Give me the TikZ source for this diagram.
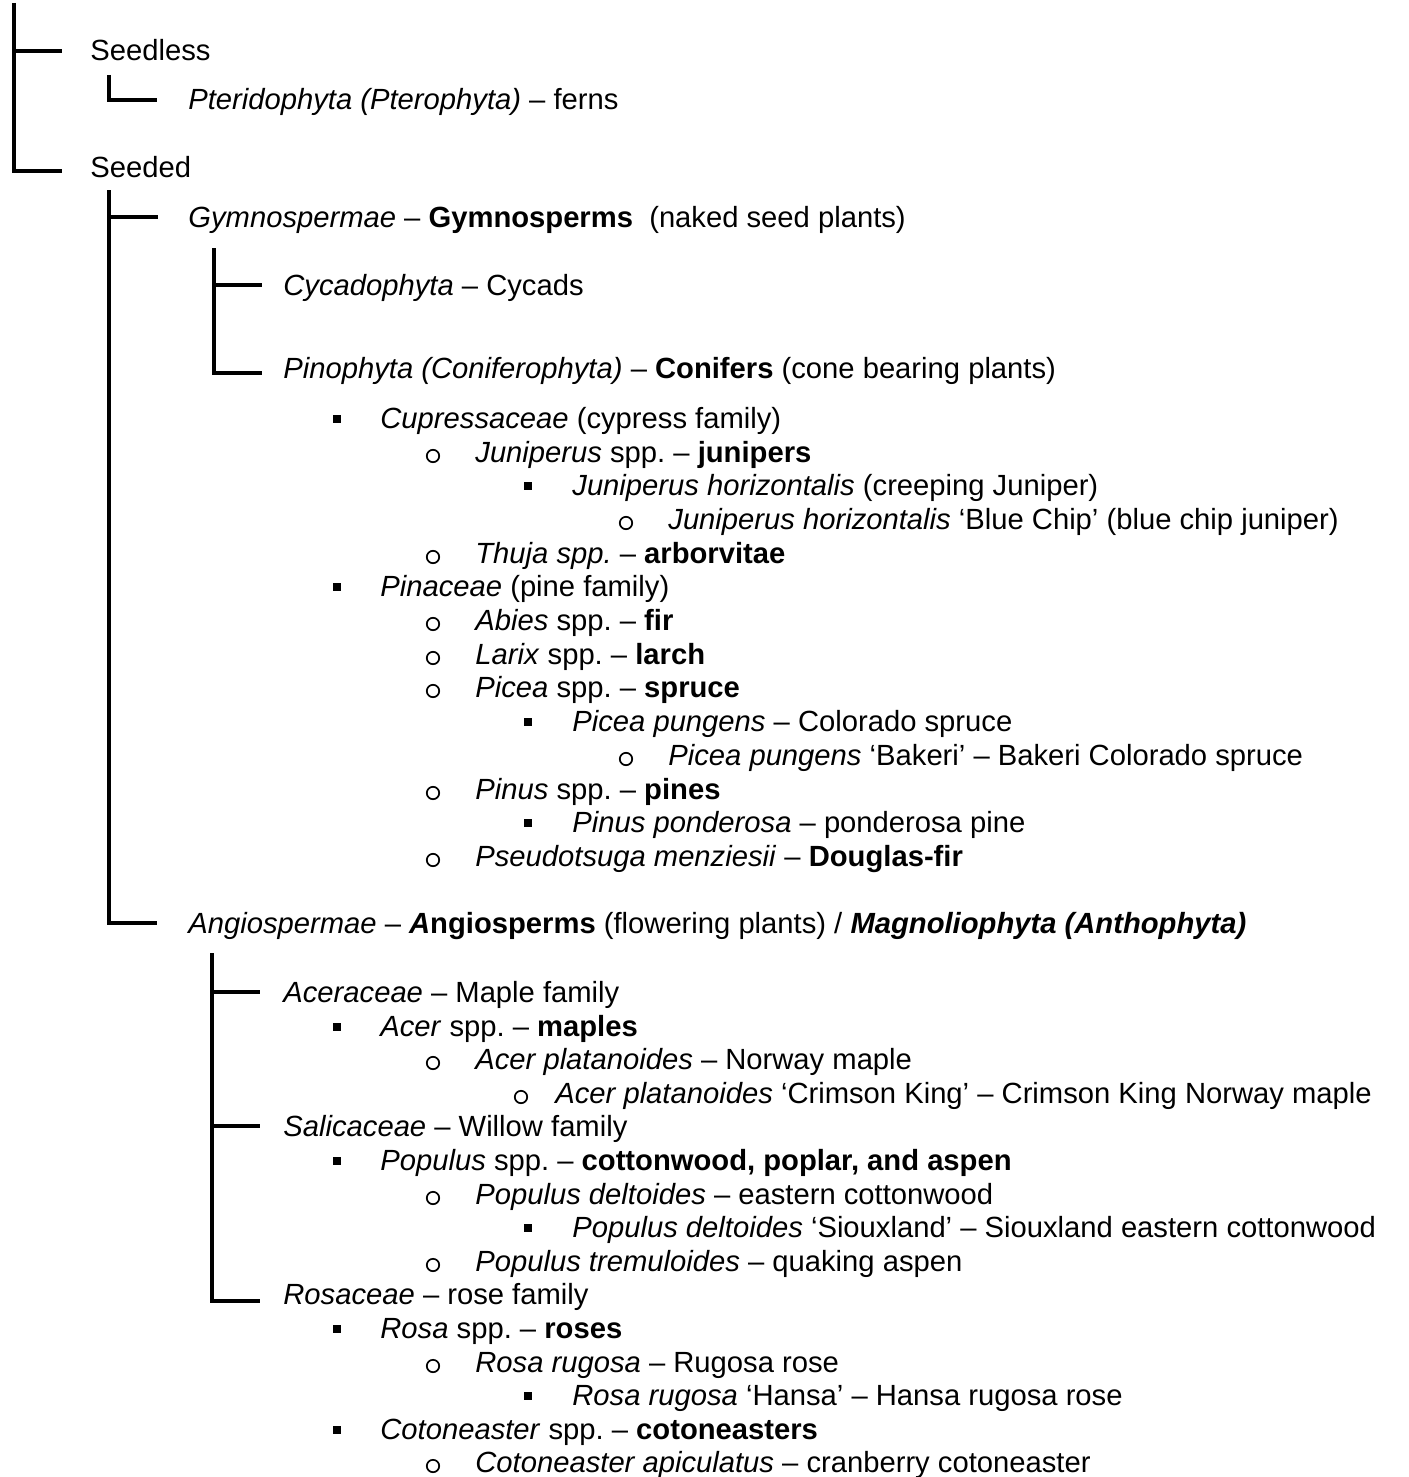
\documentclass[tikz,border=0pt]{standalone}
\usepackage{fontspec}
\setmainfont{Liberation Sans}
\usetikzlibrary{positioning}
\tikzset{
  lbl/.style={anchor=base west,inner sep=0pt,text height=10.45pt,text depth=0pt,
              font=\fontsize{14.6}{17}\selectfont},
  brk/.style={line width=2pt,line join=miter},
  sqbul/.style={rectangle,fill=black,inner sep=0pt,minimum size=4pt},
  cibul/.style={circle,draw=black,line width=0.85pt,inner sep=0pt,minimum size=6.2pt}
}
\frenchspacing
\begin{document}
\begin{tikzpicture}[x=0.5pt,y=-0.5pt]
  \useasboundingbox (0,0) rectangle (1408,1477);

  % top split
  \coordinate (root) at (14,3);
  \node[lbl] (seedless) at (90,61) {Seedless};
  \node[lbl] (pterido) at (188,110) {\textit{Pteridophyta (Pterophyta)} – ferns};
  \node[lbl] (seeded) at (90,177) {Seeded};

  \node[lbl] (gym) at (188,227)
      {\textit{Gymnospermae} – \textbf{Gymnosperms}\ \ (naked seed plants)};
  \node[lbl] (cycad) at (283,295) {\textit{Cycadophyta} – Cycads};
  \node[lbl] (pino) at (283,378)
      {\textit{Pinophyta (Coniferophyta)} – \textbf{Conifers} (cone bearing plants)};

  % conifer list
  \node[sqbul] (cup-b) at (337,419) {};
  \node[lbl] (cup) at (380,428) {\textit{Cupressaceae} (cypress family)};
  \node[cibul] (junsp-b) at (433,456) {};
  \node[lbl] (junsp) at (475,462) {\textit{Juniperus} spp. – \textbf{junipers}};
  \node[sqbul] (junhor-b) at (528,486) {};
  \node[lbl] (junhor) at (572,495) {\textit{Juniperus horizontalis} (creeping Juniper)};
  \node[cibul] (blue-b) at (626,523) {};
  \node[lbl] (blue) at (668,529)
      {\textit{Juniperus horizontalis} ‘Blue Chip’ (blue chip juniper)};
  \node[cibul] (thuja-b) at (433,557) {};
  \node[lbl] (thuja) at (475,563) {\textit{Thuja spp.} – \textbf{arborvitae}};
  \node[sqbul] (pinac-b) at (337,587) {};
  \node[lbl] (pinac) at (380,596) {\textit{Pinaceae} (pine family)};
  \node[cibul] (abies-b) at (433,624) {};
  \node[lbl] (abies) at (475,630) {\textit{Abies} spp. – \textbf{fir}};
  \node[cibul] (larix-b) at (433,658) {};
  \node[lbl] (larix) at (475,664) {\textit{Larix} spp. – \textbf{larch}};
  \node[cibul] (picea-b) at (433,691) {};
  \node[lbl] (picea) at (475,697) {\textit{Picea} spp. – \textbf{spruce}};
  \node[sqbul] (pung-b) at (528,722) {};
  \node[lbl] (pung) at (572,731) {\textit{Picea pungens} – Colorado spruce};
  \node[cibul] (bakeri-b) at (626,759) {};
  \node[lbl] (bakeri) at (668,765) {\textit{Picea pungens} ‘Bakeri’ – Bakeri Colorado spruce};
  \node[cibul] (pinus-b) at (433,793) {};
  \node[lbl] (pinus) at (475,799) {\textit{Pinus} spp. – \textbf{pines}};
  \node[sqbul] (pond-b) at (528,823) {};
  \node[lbl] (pond) at (572,832) {\textit{Pinus ponderosa} – ponderosa pine};
  \node[cibul] (pseudo-b) at (433,860) {};
  \node[lbl] (pseudo) at (475,866) {\textit{Pseudotsuga menziesii} – \textbf{Douglas-fir}};

  \node[lbl] (angio) at (188,933)
      {\textit{Angiospermae} – \textbf{\textit{A}ngiosperms} (flowering plants) /
       \textbf{\textit{Magnoliophyta (Anthophyta)}}};

  % flowering plant list
  \node[lbl] (acerac) at (283,1002) {\textit{Aceraceae} – Maple family};
  \node[sqbul] (acer-b) at (337,1027) {};
  \node[lbl] (acer) at (380,1036) {\textit{Acer} spp. – \textbf{maples}};
  \node[cibul] (acerpl-b) at (433,1063) {};
  \node[lbl] (acerpl) at (475,1069) {\textit{Acer platanoides} – Norway maple};
  \node[cibul] (crim-b) at (521,1097) {};
  \node[lbl] (crim) at (555,1103)
      {\textit{Acer platanoides} ‘Crimson King’ – Crimson King Norway maple};
  \node[lbl] (salic) at (283,1136) {\textit{Salicaceae} – Willow family};
  \node[sqbul] (popu-b) at (337,1161) {};
  \node[lbl] (popu) at (380,1170)
      {\textit{Populus} spp. – \textbf{cottonwood, poplar, and aspen}};
  \node[cibul] (delt-b) at (433,1198) {};
  \node[lbl] (delt) at (475,1204) {\textit{Populus deltoides} – eastern cottonwood};
  \node[sqbul] (sioux-b) at (528,1228) {};
  \node[lbl] (sioux) at (572,1237)
      {\textit{Populus deltoides} ‘Siouxland’ – Siouxland eastern cottonwood};
  \node[cibul] (trem-b) at (433,1265) {};
  \node[lbl] (trem) at (475,1271) {\textit{Populus tremuloides} – quaking aspen};
  \node[lbl] (rosac) at (283,1304) {\textit{Rosaceae} – rose family};
  \node[sqbul] (rosa-b) at (337,1329) {};
  \node[lbl] (rosa) at (380,1338) {\textit{Rosa} spp. – \textbf{roses}};
  \node[cibul] (rug-b) at (433,1366) {};
  \node[lbl] (rug) at (475,1372) {\textit{Rosa rugosa} – Rugosa rose};
  \node[sqbul] (hansa-b) at (528,1396) {};
  \node[lbl] (hansa) at (572,1405) {\textit{Rosa rugosa} ‘Hansa’ – Hansa rugosa rose};
  \node[sqbul] (coto-b) at (337,1430) {};
  \node[lbl] (coto) at (380,1439) {\textit{Cotoneaster} spp. – \textbf{cotoneasters}};
  \node[cibul] (apic-b) at (433,1466) {};
  \node[lbl] (apic) at (475,1472) {\textit{Cotoneaster apiculatus} – cranberry cotoneaster};

  % brackets
  \draw[brk] (root) |- ([xshift=-14pt,yshift=-2.25pt]seeded.west);
  \draw[brk] (root |- seedless.west) -- ([xshift=-14pt]seedless.west);
  \coordinate (fern) at (109,75);
  \draw[brk] (fern) |- ([xshift=-15.5pt]pterido.west);
  \coordinate (seed) at (109,190);
  \draw[brk] (seed) |- ([xshift=-15.5pt]angio.west);
  \draw[brk] (seed |- gym.west) -- ([xshift=-15pt]gym.west);
  \coordinate (gymn) at (214,248);
  \draw[brk] (gymn) |- ([xshift=-10.5pt,yshift=-2.75pt]pino.west);
  \draw[brk] (gymn |- cycad.west) -- ([xshift=-10.5pt]cycad.west);
  \coordinate (angi) at (212,953);
  \draw[brk] (angi) |- ([xshift=-11.5pt,yshift=-3.5pt]rosac.west);
  \draw[brk] (angi |- acerac.west) -- ([xshift=-11.5pt]acerac.west);
  \draw[brk] (angi |- salic.west) -- ([xshift=-11.5pt]salic.west);

\end{tikzpicture}
\end{document}
